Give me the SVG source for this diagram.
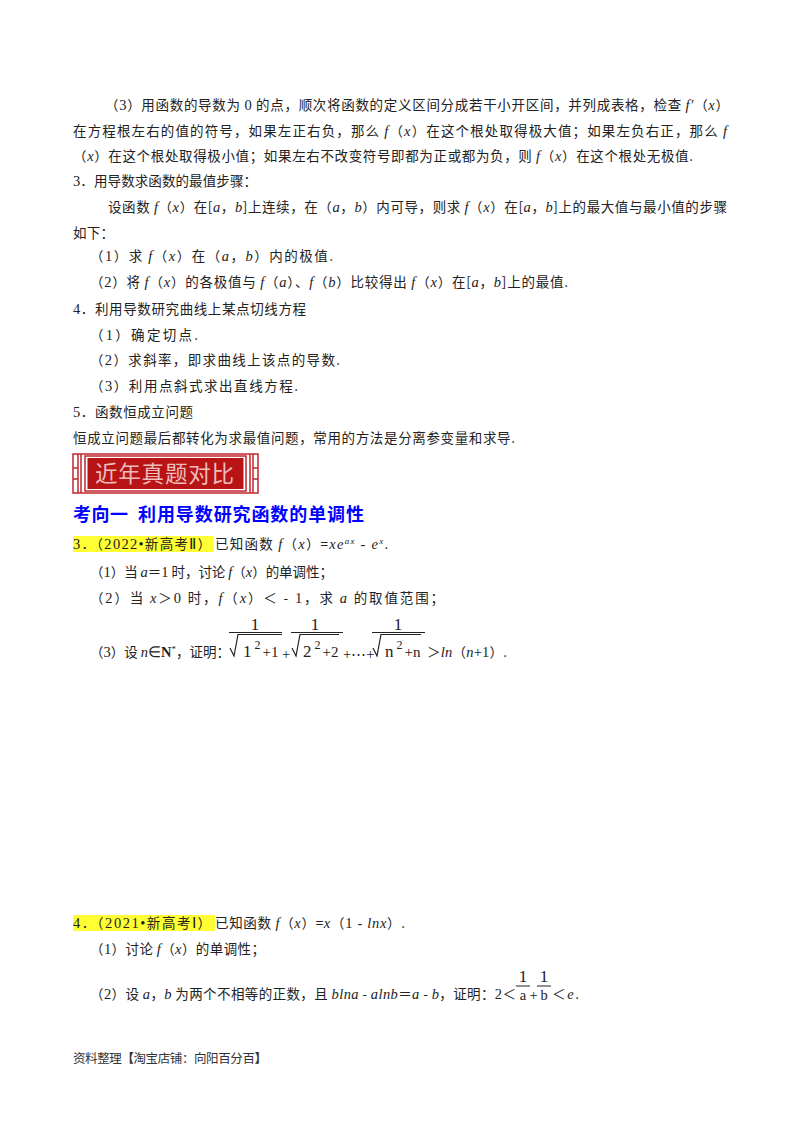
<svg xmlns="http://www.w3.org/2000/svg" width="800" height="1132" viewBox="0 0 800 1132">
<style>
text{font-family:"Noto Sans CJK SC","Liberation Serif",sans-serif;font-size:13.5px;fill:#222}
.i{font-family:"Liberation Serif",serif;font-style:italic;font-size:14.5px}
.r{font-family:"Liberation Serif",serif;font-size:14.5px}
.m{font-family:"Liberation Serif",serif;font-size:17px;fill:#222}
.s{font-size:9px;font-family:"Liberation Serif",serif}
.h{font-weight:700;font-size:18px;fill:#0000ff}
.b{fill:none;stroke:#222;stroke-width:1.2}
.hl{fill:#ffff33}
</style>
<rect width="800" height="1132" fill="#fff"/>
<g id="body">
<text x="105" y="110" textLength="624" lengthAdjust="spacing">（<tspan class="r">3</tspan>）用函数的导数为 <tspan class="r">0</tspan> 的点，顺次将函数的定义区间分成若干小开区间，并列成表格，检查 <tspan class="i">f′</tspan>（<tspan class="i">x</tspan>）</text>
<text x="73" y="136" textLength="654" lengthAdjust="spacing">在方程根左右的值的符号，如果左正右负，那么 <tspan class="i">f</tspan>（<tspan class="i">x</tspan>）在这个根处取得极大值；如果左负右正，那么 <tspan class="i">f</tspan></text>
<text x="73" y="161" textLength="620" lengthAdjust="spacing">（<tspan class="i">x</tspan>）在这个根处取得极小值；如果左右不改变符号即都为正或都为负，则 <tspan class="i">f</tspan>（<tspan class="i">x</tspan>）在这个根处无极值.</text>
<text x="73" y="186" textLength="184" lengthAdjust="spacing"><tspan class="r">3</tspan>．用导数求函数的最值步骤：</text>
<text x="108" y="212" textLength="619" lengthAdjust="spacing">设函数 <tspan class="i">f</tspan>（<tspan class="i">x</tspan>）在[<tspan class="i">a</tspan>，<tspan class="i">b</tspan>]上连续，在（<tspan class="i">a</tspan>，<tspan class="i">b</tspan>）内可导，则求 <tspan class="i">f</tspan>（<tspan class="i">x</tspan>）在[<tspan class="i">a</tspan>，<tspan class="i">b</tspan>]上的最大值与最小值的步骤</text>
<text x="73" y="238" textLength="41" lengthAdjust="spacing">如下：</text>
<text x="90" y="261" textLength="243" lengthAdjust="spacing">（<tspan class="r">1</tspan>）求 <tspan class="i">f</tspan>（<tspan class="i">x</tspan>）在（<tspan class="i">a</tspan>，<tspan class="i">b</tspan>）内的极值.</text>
<text x="90" y="287" textLength="478" lengthAdjust="spacing">（<tspan class="r">2</tspan>）将 <tspan class="i">f</tspan>（<tspan class="i">x</tspan>）的各极值与 <tspan class="i">f</tspan>（<tspan class="i">a</tspan>）、<tspan class="i">f</tspan>（<tspan class="i">b</tspan>）比较得出 <tspan class="i">f</tspan>（<tspan class="i">x</tspan>）在[<tspan class="i">a</tspan>，<tspan class="i">b</tspan>]上的最值.</text>
<text x="73" y="314" textLength="233" lengthAdjust="spacing"><tspan class="r">4</tspan>．利用导数研究曲线上某点切线方程</text>
<text x="90" y="340" textLength="108" lengthAdjust="spacing">（<tspan class="r">1</tspan>）确定切点.</text>
<text x="90" y="365" textLength="250" lengthAdjust="spacing">（<tspan class="r">2</tspan>）求斜率，即求曲线上该点的导数.</text>
<text x="90" y="391" textLength="208" lengthAdjust="spacing">（<tspan class="r">3</tspan>）利用点斜式求出直线方程.</text>
<text x="73" y="417" textLength="120" lengthAdjust="spacing"><tspan class="r">5</tspan>．函数恒成立问题</text>
<text x="73" y="443" textLength="442" lengthAdjust="spacing">恒成立问题最后都转化为求最值问题，常用的方法是分离参变量和求导.</text>
</g>
<g id="banner">
<rect x="73" y="454" width="185" height="39" fill="#fff" stroke="#c0272d" stroke-width="1.5"/>
<rect x="85" y="456" width="161" height="35" fill="#fff" stroke="#c0272d" stroke-width="1.5"/>
<rect x="87.500" y="458" width="156" height="31" fill="#b81416"/>
<path d="M78 454V493M81 454V493M73 468H78V479H73M250 454V493M253 454V493M258 468H253V479H258" fill="none" stroke="#c0272d" stroke-width="1.5"/>
<text x="95" y="482" style="font-size:22.500px;fill:#eebcbc" textLength="139" lengthAdjust="spacing">近年真题对比</text>
</g>
<g id="heading">
<text class="h" x="73" y="521" textLength="55" lengthAdjust="spacing">考向一</text>
<text class="h" x="138" y="521" textLength="226" lengthAdjust="spacing">利用导数研究函数的单调性</text>
</g>
<g id="q3">
<rect class="hl" x="73" y="536" width="141" height="16"/>
<text x="73" y="549" textLength="138" lengthAdjust="spacing"><tspan class="r">3</tspan>．（<tspan class="r">2022•</tspan>新高考<tspan class="r">Ⅱ</tspan>）</text>
<text x="215" y="549" textLength="173" lengthAdjust="spacing">已知函数 <tspan class="i">f</tspan>（<tspan class="i">x</tspan>）=<tspan class="i">xe</tspan><tspan class="i" style="font-size:9px" dy="-5">ax</tspan><tspan class="r" dy="5"> - </tspan><tspan class="i">e</tspan><tspan class="i" style="font-size:9px" dy="-5">x</tspan><tspan class="r" dy="5">.</tspan></text>
<text x="90" y="577" textLength="243" lengthAdjust="spacing">（<tspan class="r">1</tspan>）当 <tspan class="i">a</tspan>＝<tspan class="r">1</tspan> 时，讨论 <tspan class="i">f</tspan>（<tspan class="i">x</tspan>）的单调性；</text>
<text x="90" y="603" textLength="354" lengthAdjust="spacing">（<tspan class="r">2</tspan>）当 <tspan class="i">x</tspan>＞<tspan class="r">0</tspan> 时，<tspan class="i">f</tspan>（<tspan class="i">x</tspan>）＜ - <tspan class="r">1</tspan>，求 <tspan class="i">a</tspan> 的取值范围；</text>
<text x="90" y="657" textLength="140" lengthAdjust="spacing">（<tspan class="r">3</tspan>）设 <tspan class="i">n</tspan><tspan class="r">∈</tspan><tspan class="r" style="font-weight:700">N</tspan><tspan class="s" dy="-5">*</tspan><tspan dy="5">，证明：</tspan></text>
<text class="m" x="255" y="630" text-anchor="middle">1</text>
<text class="m" x="315" y="630" text-anchor="middle">1</text>
<text class="m" x="398" y="630" text-anchor="middle">1</text>
<path class="b" d="M229 632.500H282M291 632.500H343M372 632.500H425"/>
<path class="b" d="M230 648L234 656L238 634.500H282M292 648L296 656L300 634.500H339M373 648L377 656L381 634.500H421"/>
<text class="m" x="243" y="657">1<tspan class="s" dx="3" dy="-8" style="font-size:12px">2</tspan><tspan dx="2" dy="8" style="font-size:15px">+1</tspan></text>
<text class="m" x="303" y="657">2<tspan class="s" dx="3" dy="-8" style="font-size:12px">2</tspan><tspan dx="2" dy="8" style="font-size:15px">+2</tspan></text>
<text class="m" x="385" y="657">n<tspan class="s" dx="3" dy="-8" style="font-size:12px">2</tspan><tspan dx="2" dy="8" style="font-size:15px">+n</tspan></text>
<text class="r" x="282" y="659">+</text>
<text class="r" x="343" y="659">+⋯+</text>
<text x="427" y="657" textLength="80" lengthAdjust="spacing">＞<tspan class="i">ln</tspan>（<tspan class="i">n</tspan><tspan class="r">+1</tspan>）.</text>
</g>
<g id="q4">
<rect class="hl" x="73" y="915" width="142" height="16"/>
<text x="73" y="928" textLength="138" lengthAdjust="spacing"><tspan class="r">4</tspan>．（<tspan class="r">2021•</tspan>新高考<tspan class="r">Ⅰ</tspan>）</text>
<text x="215" y="928" textLength="190" lengthAdjust="spacing">已知函数 <tspan class="i">f</tspan>（<tspan class="i">x</tspan>）=<tspan class="i">x</tspan>（<tspan class="r">1 - </tspan><tspan class="i">lnx</tspan>）.</text>
<text x="90" y="954" textLength="175" lengthAdjust="spacing">（<tspan class="r">1</tspan>）讨论 <tspan class="i">f</tspan>（<tspan class="i">x</tspan>）的单调性；</text>
<text x="90" y="999" textLength="426" lengthAdjust="spacing">（<tspan class="r">2</tspan>）设 <tspan class="i">a</tspan>，<tspan class="i">b</tspan> 为两个不相等的正数，且 <tspan class="i">blna</tspan> - <tspan class="i">alnb</tspan>＝<tspan class="i">a</tspan> - <tspan class="i">b</tspan>，证明：<tspan class="r">2</tspan>＜</text>
<text class="m" x="523" y="982" text-anchor="middle">1</text>
<text class="m" x="544" y="982" text-anchor="middle">1</text>
<path class="b" d="M516 986H530M537 986H551"/>
<text class="r" x="523" y="1000" text-anchor="middle">a</text>
<text class="r" x="533.500" y="1000" text-anchor="middle">+</text>
<text class="r" x="544" y="1000" text-anchor="middle">b</text>
<text x="552" y="999" textLength="27" lengthAdjust="spacing">＜<tspan class="i">e</tspan>.</text>
</g>
<text id="footer" x="73" y="1063" style="font-size:12.500px;fill:#333" textLength="194" lengthAdjust="spacing">资料整理<tspan style="font-weight:700">【</tspan>淘宝店铺：向阳百分百<tspan style="font-weight:700">】</tspan></text>
</svg>
